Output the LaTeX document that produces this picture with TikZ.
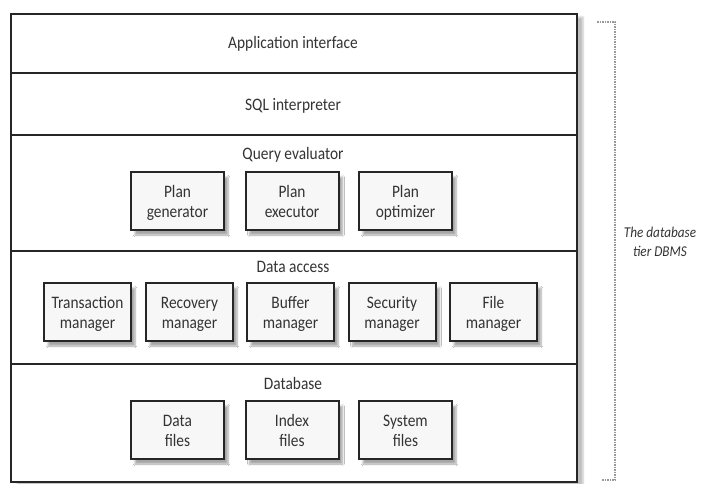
\documentclass[tikz,border=0pt]{standalone}
\usepackage{fontspec}
\setmainfont{Carlito}[FakeStretch=0.88]
\usetikzlibrary{shadows.blur}
\tikzset{
  layer/.style={draw=black!85, line width=2pt},
  comp/.style={draw=black!85, line width=2pt, fill=black!3, minimum width=87pt,
    minimum height=58pt, align=center, inner sep=1pt, font=\fontsize{17.5}{20}\selectfont,
    text height=36pt, text depth=4pt,
    text=black!80, blur shadow={shadow xshift=4pt, shadow yshift=-5pt, shadow blur steps=6, shadow opacity=35}},
  title/.style={font=\fontsize{17.5}{20}\selectfont, text=black!80},
  bracket/.style={draw=black!40, line width=1.2pt, dash pattern=on 1.5pt off 1pt},
}
\begin{document}
\begin{tikzpicture}[x=1pt, y=-1pt]
\useasboundingbox (0,0) rectangle (715,484);
% outer frame with soft shadow
\node[layer, minimum width=566pt, minimum height=468pt, inner sep=0pt, anchor=north west,
  blur shadow={shadow xshift=6pt, shadow yshift=-3pt, shadow opacity=25}, fill=white] (frame) at (10,13) {};
% layer dividers
\coordinate (d1l) at (10,73);  \coordinate (d1r) at (576,73);
\coordinate (d2l) at (10,135); \coordinate (d2r) at (576,135);
\coordinate (d3l) at (10,251); \coordinate (d3r) at (576,251);
\coordinate (d4l) at (10,364); \coordinate (d4r) at (576,364);
\draw[layer] (d1l) -- (d1r);
\draw[layer] (d2l) -- (d2r);
\draw[layer] (d3l) -- (d3r);
\draw[layer] (d4l) -- (d4r);
% layer titles
\node[title] (app) at (293,44) {Application interface};
\node[title] (sql) at (293,106) {SQL interpreter};
\node[title] (qe)  at (293,155) {Query evaluator};
\node[title] (da)  at (293,267) {Data access};
\node[title] (db)  at (293,383) {Database};
% query evaluator components
\node[comp, minimum width=93pt] (pg) at (177.5,201) {Plan\\generator};
\node[comp, minimum width=93pt] (pe) at (292,201) {Plan\\executor};
\node[comp, minimum width=93pt] (po) at (405.5,201) {Plan\\optimizer};
% data access components
\node[comp] (tm) at (87.5,312) {Transaction\\manager};
\node[comp] (rm) at (189.5,312) {Recovery\\manager};
\node[comp] (bm) at (290.5,312) {Buffer\\manager};
\node[comp] (sm) at (392,312) {Security\\manager};
\node[comp] (fm) at (493.5,312) {File\\manager};
% database components
\node[comp, minimum width=93pt] (df) at (177.5,430) {Data\\files};
\node[comp, minimum width=93pt] (xf) at (292,430) {Index\\files};
\node[comp, minimum width=93pt] (sf) at (405.5,430) {System\\files};
% tier bracket
\coordinate (bt0) at (597,22); \coordinate (bt1) at (615,22);
\coordinate (bb1) at (615,480); \coordinate (bb0) at (602,480);
\draw[bracket] (bt0) -- (bt1) -- (bb1) -- (bb0);
\node[title, font=\fontsize{15}{19}\selectfont\itshape, align=center] (tier) at (660,242) {The database\\tier DBMS};
\end{tikzpicture}
\end{document}
